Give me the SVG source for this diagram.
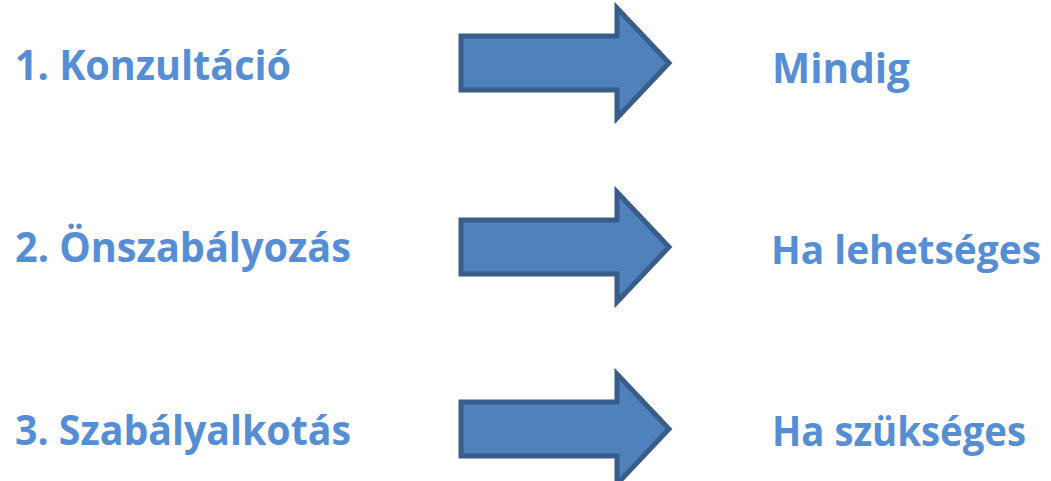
<svg xmlns="http://www.w3.org/2000/svg" width="1051" height="481" viewBox="0 0 1051 481">
<style>
.t{font-family:"Open Sans","Noto Sans","Liberation Sans",sans-serif;font-weight:bold;font-size:42px;fill:#558ed5}
.a{fill:#4f81bd;stroke:#385d8a;stroke-width:5;stroke-linejoin:miter}
</style>
<defs>
<path id="arr" d="M461,36 H617 V8 L669,63 L617,118 V90 H461 Z"/>
</defs>
<g id="node-konzultacio"><text class="t" x="15" y="80" textLength="276" lengthAdjust="spacingAndGlyphs">1. Konzultáció</text></g>
<g id="node-onszabalyozas"><text class="t" x="15" y="262" textLength="336" lengthAdjust="spacingAndGlyphs">2. Önszabályozás</text></g>
<g id="node-szabalyalkotas"><text class="t" x="15" y="445" textLength="336" lengthAdjust="spacingAndGlyphs">3. Szabályalkotás</text></g>
<g id="node-mindig"><text class="t" x="772" y="83" textLength="138" lengthAdjust="spacingAndGlyphs">Mindig</text></g>
<g id="node-ha-lehetseges"><text class="t" x="771" y="264" style="font-size:40px" textLength="270" lengthAdjust="spacingAndGlyphs">Ha lehetséges</text></g>
<g id="node-ha-szukseges"><text class="t" x="772" y="446" textLength="254" lengthAdjust="spacingAndGlyphs">Ha szükséges</text></g>
<g id="connectors">
<use href="#arr" class="a"/>
<use href="#arr" class="a" y="184"/>
<use href="#arr" class="a" y="366"/>
</g>
</svg>
